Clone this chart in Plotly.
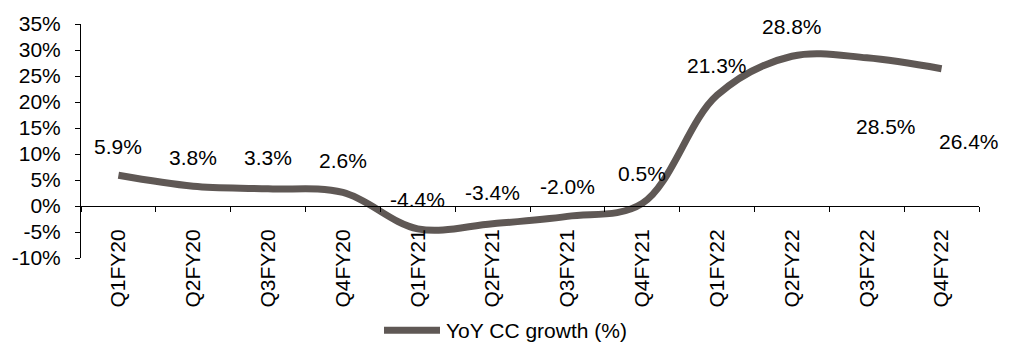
import plotly.graph_objects as go

# Quarterly YoY constant-currency growth (%)
quarters = ["Q1FY20", "Q2FY20", "Q3FY20", "Q4FY20", "Q1FY21", "Q2FY21",
            "Q3FY21", "Q4FY21", "Q1FY22", "Q2FY22", "Q3FY22", "Q4FY22"]
growth = [5.9, 3.8, 3.3, 2.6, -4.4, -3.4, -2.0, 0.5, 21.3, 28.8, 28.5, 26.4]

y_tick_values = [-10, -5, 0, 5, 10, 15, 20, 25, 30, 35]
y_tick_labels = ["-10%", "-5%", "0%", "5%", "10%", "15%", "20%", "25%", "30%", "35%"]

series_name = "YoY CC growth (%)"

# label nudges in pixels (x, y) for each data label
label_dx = [0, 0, 0, 0, 0, 0, 0, 0, 0, 0, 19, 27]
label_dy = [29, 29, 31, 32, 29, 31, 30, 30, 30, 30, -69, -73]

LINE_COLOR = "#5f5855"
FONT = "Liberation Sans, Arial, sans-serif"
FS = 21
Y_MIN, Y_MAX = -10, 35

fig = go.Figure()
fig.add_trace(go.Scatter(
    x=quarters, y=growth, mode="lines", name=series_name,
    line=dict(color=LINE_COLOR, width=7, shape="spline", smoothing=1.0),
    showlegend=False, hoverinfo="skip",
))

for q, v, dx, dy in zip(quarters, growth, label_dx, label_dy):
    fig.add_annotation(
        x=q, y=v, text=f"{v:.1f}%", showarrow=False,
        xshift=dx, yshift=dy, font=dict(family=FONT, size=FS, color="#000000"),
    )

# legend drawn beneath the axis: swatch line + caption
L, R, T, B = 81, 37, 18, 87
W, H = 1016 - L - R, 345 - T - B
def px_x(p): return (p - L) / W
def px_y(p): return (345 - B - p) / H

fig.add_shape(type="line", xref="paper", yref="paper",
              x0=px_x(384), x1=px_x(440), y0=px_y(332), y1=px_y(332),
              line=dict(color=LINE_COLOR, width=7))
fig.add_annotation(xref="paper", yref="paper", x=px_x(444), y=px_y(332),
                   xanchor="left", yanchor="middle", showarrow=False,
                   text=series_name, font=dict(family=FONT, size=FS, color="#000000"))

fig.update_layout(
    width=1016, height=345,
    margin=dict(l=L, r=R, t=T, b=B, pad=0),
    paper_bgcolor="white", plot_bgcolor="white",
    font=dict(family=FONT, size=FS, color="#000000"),
    xaxis=dict(
        type="category", range=[-0.5, len(quarters) - 0.5],
        anchor="free", position=(0 - Y_MIN) / (Y_MAX - Y_MIN),
        showline=True, linecolor="#000000", linewidth=1,
        ticks="outside", ticklen=5, tickcolor="#000000", tickson="boundaries",
        tickangle=-90, showgrid=False, zeroline=False,
        tickfont=dict(family=FONT, size=FS, color="#000000"),
        ticklabelstandoff=14,
    ),
    yaxis=dict(
        range=[Y_MIN, Y_MAX], domain=[0, 1],
        tickvals=y_tick_values, ticktext=y_tick_labels,
        showline=True, linecolor="#000000", linewidth=1,
        ticks="outside", ticklen=5, tickcolor="#000000",
        showgrid=False, zeroline=False,
        tickfont=dict(family=FONT, size=FS, color="#000000"),
        ticklabelstandoff=10,
    ),
)

fig.write_html("out.html")
